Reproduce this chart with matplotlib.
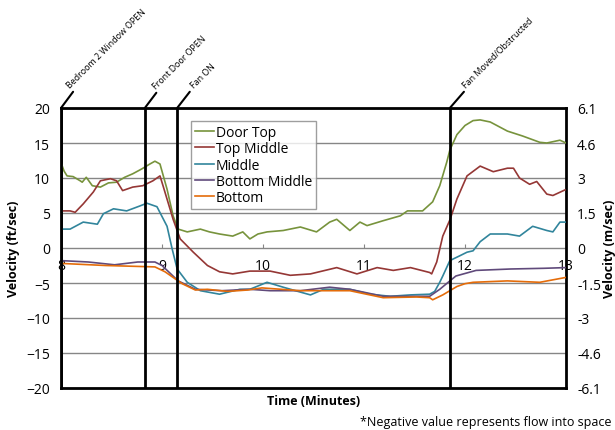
import matplotlib.pyplot as plt

plt.rcParams['font.family'] = ['Open Sans', 'DejaVu Sans']

# values (time in minutes, velocity in ft/sec)
door_top_t = [8.00, 8.03, 8.06, 8.12, 8.19, 8.21, 8.25, 8.31, 8.39, 8.47, 8.55, 8.63, 8.71, 8.80,
              8.88, 8.93, 8.98, 9.05, 9.11, 9.16, 9.25, 9.38, 9.47, 9.57, 9.70, 9.80, 9.87, 9.95,
              10.04, 10.20, 10.37, 10.53, 10.66, 10.73, 10.86, 10.96, 11.03, 11.19, 11.36, 11.43,
              11.58, 11.68, 11.75, 11.82, 11.85, 11.92, 12.00, 12.08, 12.15, 12.25, 12.42, 12.57,
              12.74, 12.81, 12.94, 13.00]
door_top_v = [12.2, 11.0, 10.3, 10.2, 9.6, 9.4, 10.1, 8.9, 8.7, 9.3, 9.4, 10.1, 10.6, 11.3,
              12.0, 12.4, 12.0, 8.4, 4.6, 2.7, 2.3, 2.7, 2.3, 2.0, 1.7, 2.3, 1.3, 2.0,
              2.3, 2.5, 3.0, 2.3, 3.7, 4.1, 2.5, 3.7, 3.2, 3.9, 4.6, 5.3,
              5.3, 6.6, 8.9, 12.3, 14.0, 16.2, 17.5, 18.2, 18.3, 18.0, 16.7, 16.0,
              15.1, 15.0, 15.4, 15.0]

top_mid_t = [8.00, 8.09, 8.14, 8.22, 8.32, 8.39, 8.49, 8.55, 8.61, 8.71, 8.81, 8.91, 8.98, 9.01,
             9.11, 9.18, 9.31, 9.45, 9.57, 9.70, 9.87, 10.07, 10.27, 10.47, 10.73, 10.93, 11.13,
             11.29, 11.46, 11.65, 11.67, 11.72, 11.78, 11.85, 11.92, 12.02, 12.15, 12.28, 12.42,
             12.48, 12.54, 12.64, 12.71, 12.81, 12.87, 12.99]
top_mid_v = [5.3, 5.3, 5.1, 6.3, 8.0, 9.6, 9.9, 9.6, 8.2, 8.7, 8.9, 9.6, 10.3, 8.9,
             4.1, 1.3, -0.6, -2.5, -3.4, -3.7, -3.3, -3.3, -3.9, -3.7, -2.8, -3.7, -2.8,
             -3.2, -2.8, -3.5, -3.7, -2.0, 1.7, 4.0, 7.0, 10.3, 11.7, 10.9, 11.4,
             11.4, 10.0, 9.1, 9.5, 7.7, 7.5, 8.3]

middle_t = [8.00, 8.09, 8.22, 8.36, 8.42, 8.52, 8.65, 8.78, 8.85, 8.95, 9.05, 9.10, 9.15, 9.25,
            9.38, 9.57, 9.77, 9.87, 10.04, 10.20, 10.37, 10.47, 10.60, 10.86, 11.06, 11.26,
            11.46, 11.65, 11.70, 11.75, 11.78, 11.85, 11.95, 12.02, 12.08, 12.15, 12.25, 12.42,
            12.54, 12.67, 12.81, 12.87, 12.94, 13.00]
middle_v = [2.7, 2.7, 3.7, 3.4, 4.9, 5.6, 5.3, 6.0, 6.4, 5.9, 3.1, -0.1, -3.0, -4.9,
            -6.1, -6.6, -5.9, -5.9, -4.9, -5.6, -6.3, -6.7, -5.9, -5.9, -6.6, -6.9,
            -6.7, -6.6, -6.2, -4.9, -4.0, -1.8, -1.1, -0.6, -0.4, 0.9, 2.0, 2.0,
            1.7, 3.1, 2.5, 2.3, 3.7, 3.7]

bot_mid_t = [8.00, 8.27, 8.53, 8.76, 8.93, 9.00, 9.16, 9.33, 9.59, 9.87, 10.07, 10.37, 10.66,
             10.86, 11.19, 11.46, 11.65, 11.75, 11.85, 11.91, 12.11, 12.45, 12.78, 13.00]
bot_mid_v = [-1.8, -2.0, -2.4, -2.0, -2.0, -2.5, -4.7, -5.9, -6.1, -5.9, -6.1, -6.1, -5.6,
             -5.9, -6.9, -6.9, -6.9, -5.9, -4.7, -4.0, -3.2, -3.0, -2.9, -2.8]

bottom_t = [8.00, 8.44, 8.93, 9.03, 9.20, 9.33, 9.45, 9.65, 9.85, 9.99, 10.37, 10.86, 11.19,
            11.52, 11.65, 11.68, 11.78, 11.85, 11.92, 12.00, 12.08, 12.42, 12.74, 13.00]
bottom_v = [-2.2, -2.5, -2.7, -3.4, -5.1, -6.0, -5.9, -6.2, -6.0, -5.7, -6.1, -6.1, -7.1,
            -7.0, -7.1, -7.4, -6.7, -6.1, -5.5, -5.1, -4.9, -4.7, -4.9, -4.2]

series = [
    ('Door Top', door_top_t, door_top_v, '#77933C'),
    ('Top Middle', top_mid_t, top_mid_v, '#953735'),
    ('Middle', middle_t, middle_v, '#31859C'),
    ('Bottom Middle', bot_mid_t, bot_mid_v, '#604A7B'),
    ('Bottom', bottom_t, bottom_v, '#E46C0A'),
]

events = [(8.0, 'Bedroom 2 Window OPEN', (10, 19)),
          (8.83, 'Front Door OPEN', (13, 18)),
          (9.15, 'Fan ON', (18, 19)),
          (11.85, 'Fan Moved/Obstructed', (18, 19))]

y_ticks = [-20, -15, -10, -5, 0, 5, 10, 15, 20]
y_ticks_m = ['-6.1', '-4.6', '-3', '-1.5', '0', '1.5', '3', '4.6', '6.1']
x_ticks = [8, 9, 10, 11, 12, 13]

fig = plt.figure(figsize=(6.15, 4.31), dpi=100)
ax = fig.add_axes([61/615, 42/431, 505/615, 280/431])

for name, t, v, c in series:
    ax.plot(t, v, color=c, lw=1.2, label=name, zorder=3)

ax.set_xlim(8, 13)
ax.set_ylim(-20, 20)
ax.set_yticks(y_ticks)
ax.set_xticks(x_ticks)
ax.yaxis.grid(True, color='#868686', lw=1)
ax.set_axisbelow(True)

# x axis crosses at zero
ax.spines['bottom'].set_position(('data', 0))
ax.spines['bottom'].set_visible(False)
ax.axhline(-20, color='black', lw=2, clip_on=False, zorder=5)
ax.tick_params(axis='x', direction='in', length=3, color='#868686', labelsize=10, pad=7)
ax.tick_params(axis='y', length=0, labelsize=10, pad=8)
for s in ['top', 'left', 'right']:
    ax.spines[s].set_color('black')
    ax.spines[s].set_linewidth(2)

for t, label, off in events:
    ax.axvline(t, color='black', lw=2, zorder=4)
    ax.annotate(label, xy=(t, 20), xytext=off, textcoords='offset pixels',
                rotation=45, rotation_mode='anchor', ha='left', va='bottom', fontsize=6.4,
                arrowprops=dict(arrowstyle='-', color='black', lw=1.5, shrinkA=0, shrinkB=0),
                annotation_clip=False)

ax.set_ylabel('Velocity (ft/sec)', fontsize=9, fontweight='bold', labelpad=4)
ax.set_xlabel('Time (Minutes)', fontsize=9, fontweight='bold')
ax.xaxis.set_label_coords(0.5, -0.02)

ax2 = ax.twinx()
ax2.set_ylim(-20, 20)
ax2.set_yticks(y_ticks)
ax2.set_yticklabels(y_ticks_m)
ax2.tick_params(axis='y', length=0, labelsize=10, pad=8)
for s in ax2.spines.values():
    s.set_visible(False)
ax2.set_ylabel('Velocity (m/sec)', fontsize=9, fontweight='bold', labelpad=1)

leg = ax.legend(loc='upper left', bbox_to_anchor=(0.257, 0.955), fontsize=10, frameon=True,
                fancybox=False, edgecolor='#868686', handlelength=1.4, handletextpad=0.1,
                borderpad=0.3, labelspacing=0.1, borderaxespad=0)
leg.get_frame().set_linewidth(1)
leg.set_zorder(6)

fig.text(0.995, 0.005, '*Negative value represents flow into space', ha='right', va='bottom',
         fontsize=9)

fig.savefig('out.png', dpi=100)
